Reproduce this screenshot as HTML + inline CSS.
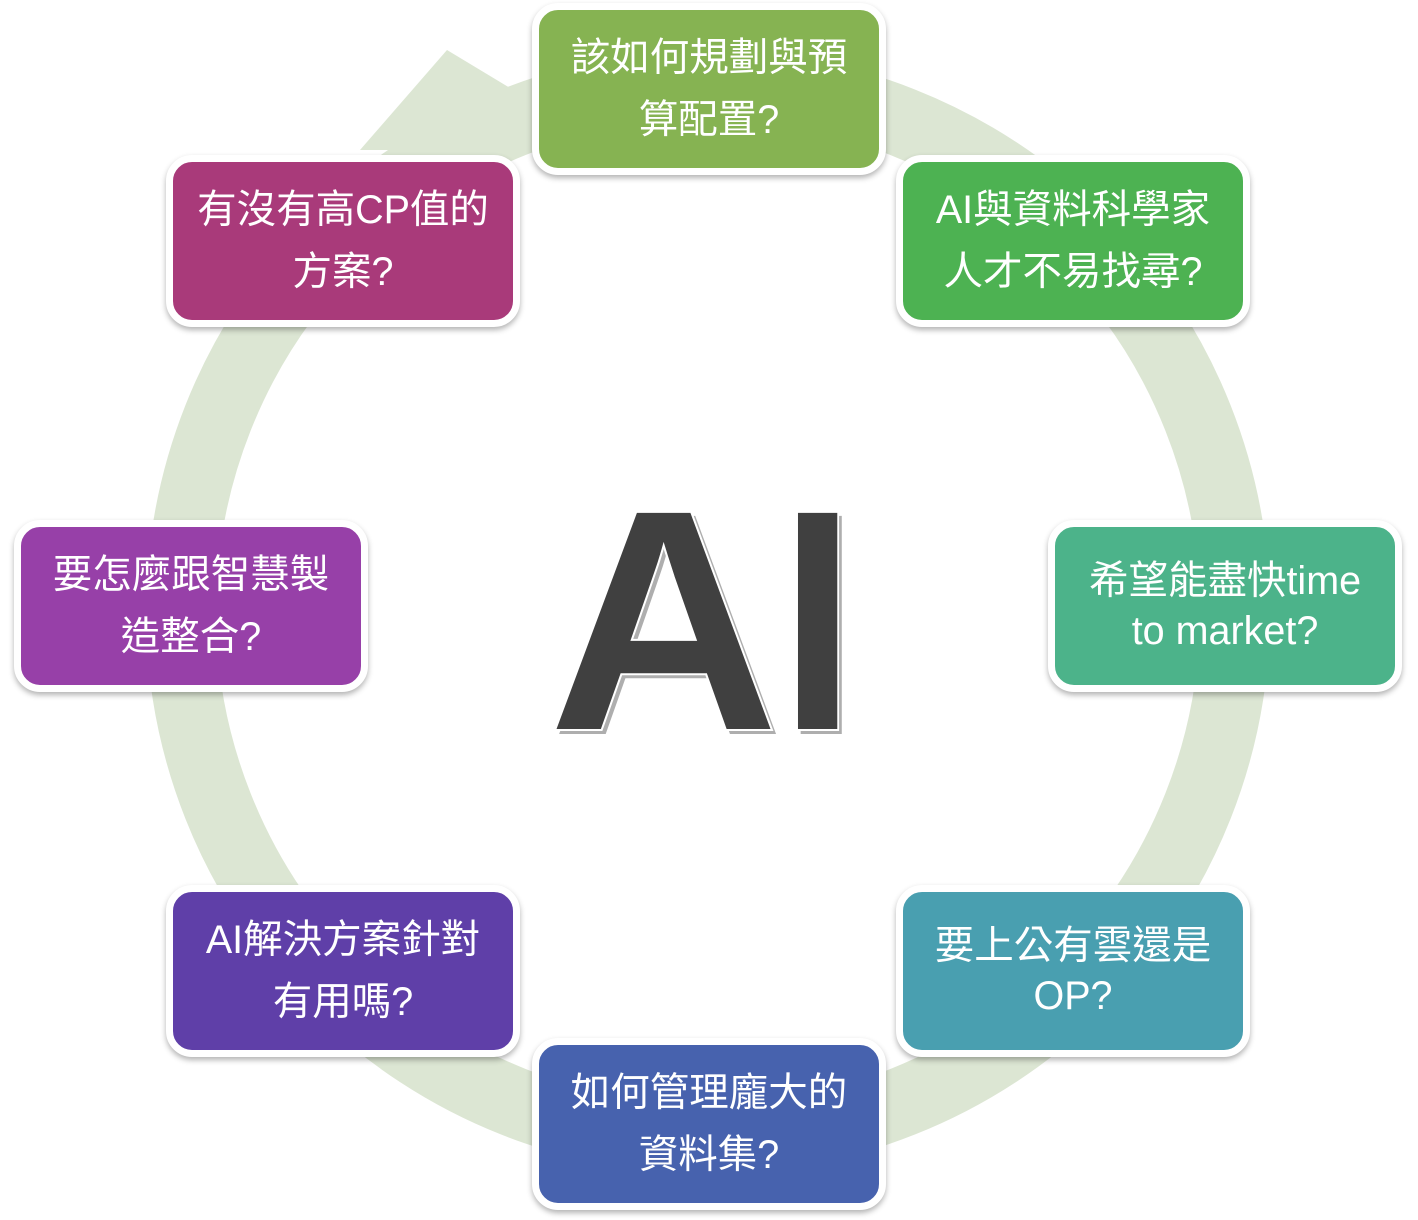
<!DOCTYPE html>
<html><head><meta charset="utf-8"><style>
html,body{margin:0;padding:0;background:#fff;}
body{width:1418px;height:1220px;position:relative;overflow:hidden;font-family:"Liberation Sans","Noto Sans CJK TC",sans-serif;}
.b{position:absolute;width:340px;height:158px;border:7px solid #fff;border-radius:26px;box-shadow:0 3px 6px rgba(0,0,0,0.3);color:#fff;font-size:39.5px;line-height:62px;display:flex;align-items:center;justify-content:center;text-align:center;box-sizing:content-box;}
.b span{display:block;padding:0 6px;white-space:nowrap;}
</style></head><body>
<svg width="1418" height="1220" style="position:absolute;left:0;top:0">
<circle cx="708" cy="612" r="527" fill="none" stroke="#dce6d3" stroke-width="70"/>
<polygon points="447,50 520,94 505,150 360,150" fill="#dce6d3"/>
<g transform="translate(547,730) scale(1.02,1)">
<text x="4" y="4" font-family="Liberation Sans" font-weight="bold" font-size="317" fill="#9a9a9a" opacity="0.8">A</text>
<text x="0" y="0" font-family="Liberation Sans" font-weight="bold" font-size="317" fill="#404040" stroke="#fff" stroke-width="2">A</text>
</g>
<g transform="translate(778,730) scale(0.9,1)">
<text x="4" y="4" font-family="Liberation Sans" font-weight="bold" font-size="317" fill="#9a9a9a" opacity="0.8">I</text>
<text x="0" y="0" font-family="Liberation Sans" font-weight="bold" font-size="317" fill="#404040" stroke="#fff" stroke-width="2">I</text>
</g>
</svg>
<div class="b" style="left:532px;top:3px;background:#86b352"><span>該如何規劃與預<br>算配置?</span></div>
<div class="b" style="left:896px;top:155px;background:#4db252"><span>AI與資料科學家<br>人才不易找尋?</span></div>
<div class="b" style="left:1048px;top:520px;background:#4cb38a;line-height:50px"><span>希望能盡快time<br>to market?</span></div>
<div class="b" style="left:896px;top:885px;background:#499fb0;line-height:50px"><span>要上公有雲還是<br>OP?</span></div>
<div class="b" style="left:532px;top:1038px;background:#4762ae"><span>如何管理龐大的<br>資料集?</span></div>
<div class="b" style="left:166px;top:885px;background:#5f3fa8"><span>AI解決方案針對<br>有用嗎?</span></div>
<div class="b" style="left:14px;top:520px;background:#9740a8"><span>要怎麼跟智慧製<br>造整合?</span></div>
<div class="b" style="left:166px;top:155px;background:#a93a7a"><span>有沒有高CP值的<br>方案?</span></div>
</body></html>
